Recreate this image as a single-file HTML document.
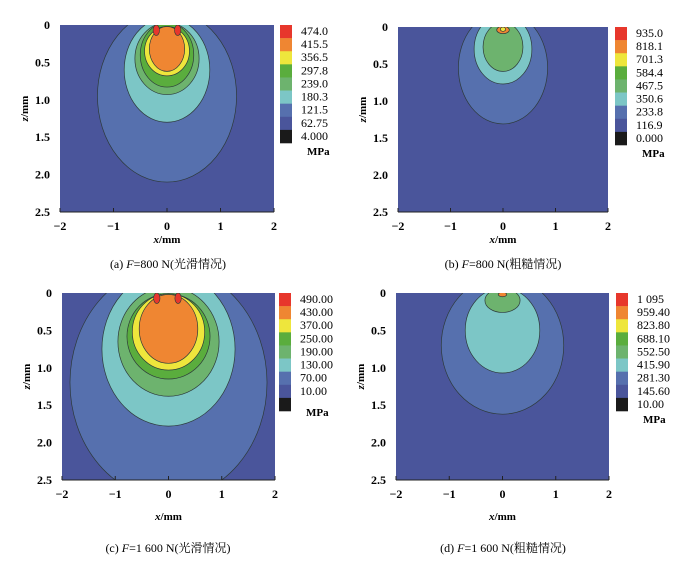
<!DOCTYPE html>
<html><head><meta charset="utf-8">
<style>
body{margin:0;background:#fff;}
svg{display:block;font-family:"Liberation Serif","Noto Serif CJK SC",serif;}
</style></head>
<body>
<svg id="fig" width="700" height="569" viewBox="0 0 700 569"></svg>
<script>
const colors=["#4a559b","#5670ae","#7cc6c6","#6db36e","#5aad3d","#eee63c","#ef8632","#e7372c","#1a1a1a"];
// Panel data: legend labels (top to bottom) and contour ellipses [cz, rz, rx, colorIdx] (mm)
const legendA=["474.0","415.5","356.5","297.8","239.0","180.3","121.5","62.75","4.000"];
const legendB=["935.0","818.1","701.3","584.4","467.5","350.6","233.8","116.9","0.000"];
const legendC=["490.00","430.00","370.00","250.00","190.00","130.00","70.00","10.00"];
const legendD=["1 095","959.40","823.80","688.10","552.50","415.90","281.30","145.60","10.00"];
const contoursA=[[0.95,1.15,1.3,1],[0.6,0.7,0.8,2],[0.45,0.48,0.6,3],[0.4,0.43,0.5,4],[0.35,0.33,0.42,5],[0.32,0.3,0.33,6]];
const contoursB=[[0.55,0.76,0.85,1],[0.3,0.47,0.55,2],[0.27,0.33,0.38,3],[0.04,0.05,0.12,6],[0.03,0.03,0.05,5]];
const contoursC=[[1.2,1.545,1.85,1],[0.75,1.03,1.25,2],[0.65,0.73,0.95,3],[0.58,0.57,0.78,4],[0.52,0.51,0.68,5],[0.48,0.46,0.55,6]];
const contoursD=[[0.7,0.92,1.15,1],[0.5,0.57,0.7,2],[0.1,0.16,0.33,3],[0.02,0.03,0.08,6]];
const xTicks=[-2,-1,0,1,2];
const zTicks=["0","0.5","1.0","1.5","2.0","2.5"];
const panels=[
 {id:"a",L:60,R:274,T:25,B:212,xt:243,cb:280,leg:legendA,con:contoursA,blobs:[-0.2,0.2],cap:"(a) ",F:"=800 N(光滑情况)",cx:168,cy:268},
 {id:"b",L:398,R:608,T:27,B:212,xt:243,cb:615,leg:legendB,con:contoursB,blobs:[],cap:"(b) ",F:"=800 N(粗糙情况)",cx:503,cy:268},
 {id:"c",L:62,R:275,T:293,B:480,xt:520,cb:279,leg:legendC,con:contoursC,blobs:[-0.22,0.18],cap:"(c) ",F:"=1 600 N(光滑情况)",cx:168,cy:552},
 {id:"d",L:396,R:609,T:293,B:480,xt:520,cb:616,leg:legendD,con:contoursD,blobs:[],cap:"(d) ",F:"=1 600 N(粗糙情况)",cx:503,cy:552}
];
const NS="http://www.w3.org/2000/svg";
const svg=document.getElementById("fig");
function mk(tag,attrs,parent){const e=document.createElementNS(NS,tag);for(const k in attrs)e.setAttribute(k,attrs[k]);(parent||svg).appendChild(e);return e;}
panels.forEach(p=>{
 const g=mk("g",{});
 
 
 const sx=v=>p.L+(v+2)/4*(p.R-p.L);
 const sz=v=>p.T+v/2.5*(p.B-p.T);
 const kx=(p.R-p.L)/4, kz=(p.B-p.T)/2.5;
 const cp=mk("clipPath",{id:"clip"+p.id},g);
 mk("rect",{x:p.L,y:p.T,width:p.R-p.L,height:p.B-p.T},cp);
 const bg=mk("rect",{x:p.L,y:p.T,width:p.R-p.L,height:p.B-p.T,fill:colors[0]},g);
 
 
 const cg=mk("g",{"clip-path":"url(#clip"+p.id+")"},g);
 p.con.forEach((c,i)=>{
  const e=mk("ellipse",{cx:sx(0),cy:sz(c[0]),rx:c[2]*kx,ry:c[1]*kz,fill:colors[c[3]],stroke:"#2d3a3a","stroke-width":0.7},cg);
  
  
 });
 p.blobs.forEach(b=>{
  const e=mk("ellipse",{cx:sx(b),cy:sz(0.07),rx:0.06*kx,ry:0.07*kz,fill:colors[7],stroke:"#2d3a3a","stroke-width":0.6},cg);
  
  
 });
 mk("line",{x1:p.L,y1:p.B,x2:p.R,y2:p.B,stroke:"#222","stroke-width":1},g);
 xTicks.forEach(t=>{
  mk("line",{x1:sx(t),y1:p.B,x2:sx(t),y2:p.B-4,stroke:"#222"},g);
  const tx=mk("text",{x:sx(t),y:p.B+18,"text-anchor":"middle","font-size":12,"font-weight":"bold"},g);
  tx.textContent=t<0?"\u2212"+(-t):String(t);
  
  
 });
 zTicks.forEach(t=>{
  const ty=mk("text",{x:p.L-10,y:sz(parseFloat(t))+4,"text-anchor":"end","font-size":12,"font-weight":"bold"},g);
  ty.textContent=t;
  
  
 });
 const xl=mk("text",{x:(p.L+p.R)/2,y:p.xt,"text-anchor":"middle","font-size":11,"font-weight":"bold"},g);
 xl.innerHTML='<tspan font-style="italic">x</tspan>/mm';
 
 
 const zl=mk("text",{x:0,y:0,"text-anchor":"middle","font-size":11,"font-weight":"bold",transform:`translate(${p.L-32},${(p.T+p.B)/2-10}) rotate(-90)`},g);
 zl.innerHTML='<tspan font-style="italic">z</tspan>/mm';
 
 
 const h=118/9;
 for(let i=0;i<9;i++){
  const r=mk("rect",{x:p.cb,y:p.T+i*h,width:12,height:h+0.3,fill:i===8?colors[8]:colors[7-i]},g);
  
  
 }
 const n=p.leg.length;
 for(let i=0;i<n;i++){
  const lt=mk("text",{x:p.cb+21,y:p.T+i*h+10,"font-size":12},g);
  lt.textContent=p.leg[i];
  
  
 }
 const mp=mk("text",{x:p.cb+27,y:p.T+n*h+12+(n<9?6:0),"font-size":11,"font-weight":"bold"},g);
 mp.textContent="MPa";
 
 
 const cap=mk("text",{x:p.cx,y:p.cy,"text-anchor":"middle","font-size":12},g);
 cap.innerHTML=p.cap+'<tspan font-style="italic">F</tspan>'+p.F;
 
 
});
</script>
</body></html>
